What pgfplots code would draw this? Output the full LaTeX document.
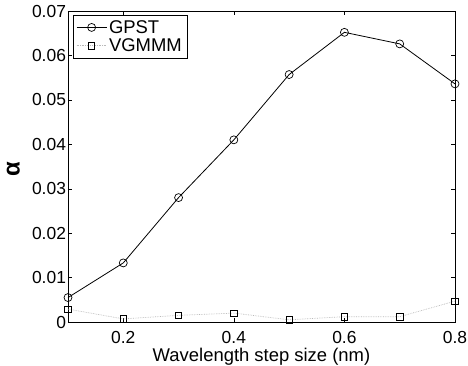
\documentclass[border=0pt]{standalone}
\usepackage{pgfplots}
\pgfplotsset{compat=1.18}
\usepackage{fontspec}
\setmainfont{Liberation Sans}
\begin{document}
\begin{tikzpicture}
\begin{axis}[
  name=ax,
  scale only axis,
  width=387bp, height=311bp,
  xmin=0.1, xmax=0.8, ymin=0, ymax=0.07,
  scaled y ticks=false, scaled x ticks=false,
  xtick={0.2,0.4,0.6,0.8},
  xticklabels={0.2,0.4,0.6,0.8},
  ytick={0,0.01,0.02,0.03,0.04,0.05,0.06,0.07},
  yticklabels={0,0.01,0.02,0.03,0.04,0.05,0.06,0.07},
  tick align=inside,
  major tick length=4bp,
  tick style={black, thin},
  ticklabel style={font=\fontsize{17.5}{18}\selectfont},
  yticklabel style={xshift=1.5bp},
  xticklabel style={anchor=base, yshift=-21.5bp},
  /pgf/number format/assume math mode=true,
  xlabel={Wavelength step size (nm)},
  ylabel={\textbf{α}},
  xlabel style={font=\fontsize{18.5}{20}\selectfont, at={(axis description cs:0.5,0)}, anchor=base, yshift=-39.5bp},
  ylabel style={font=\fontsize{24}{24}\selectfont, at={(axis description cs:-0.141,0.49)}, anchor=center},
  axis line style={black, thin},
  legend style={at={(0.013,0.987)}, anchor=north west, font=\fontsize{18.5}{21}\selectfont, draw=black, thin, inner sep=3bp, row sep=0bp},
  legend cell align=left,
  legend image code/.code={\draw[mark repeat=2,mark phase=2] plot coordinates {(0bp,0bp) (15bp,0bp) (30bp,0bp)};},
]
\addplot[black, line width=0.8pt, mark=o, mark size=4bp, mark options={solid, black, line width=0.7pt}] coordinates {
(0.1,0.0055) (0.2,0.0133) (0.3,0.0280) (0.4,0.0410) (0.5,0.0557) (0.6,0.0652) (0.7,0.0626) (0.8,0.0536)
};
\addlegendentry{GPST}
\addplot[gray!55, line width=0.7pt, densely dotted, mark=square, mark size=3.2bp, mark options={solid, black, line width=0.7pt}] coordinates {
(0.1,0.0029) (0.2,0.0007) (0.3,0.0015) (0.4,0.0020) (0.5,0.0005) (0.6,0.0012) (0.7,0.0012) (0.8,0.0047)
};
\addlegendentry{VGMMM}
\end{axis}
\pgfresetboundingbox
\path[use as bounding box] ([shift={(-68bp,-44bp)}]ax.south west) rectangle ++(468bp,366bp);
\end{tikzpicture}
\end{document}
